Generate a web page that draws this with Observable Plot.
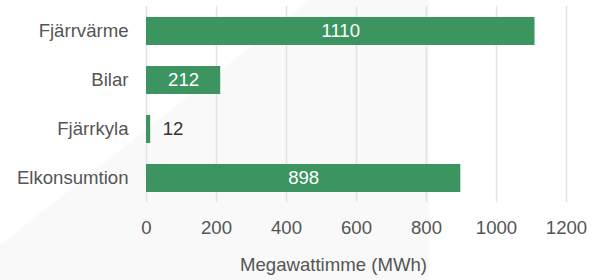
<!DOCTYPE html>
<html>
<head>
<meta charset="utf-8">
<script src="https://cdn.jsdelivr.net/npm/d3@7"></script>
<script src="https://cdn.jsdelivr.net/npm/@observablehq/plot@0.6"></script>
<style>
  html, body { margin: 0; padding: 0; background: #ffffff; }
  #wrap { position: relative; width: 592px; height: 280px; overflow: hidden; }
  #bg { position: absolute; left: 0; top: 0; width: 429px; height: 280px; background: #f9f9f9;
        clip-path: polygon(0 245px, 310px 0, 429px 0, 429px 280px, 0 280px); }
  #chart { position: absolute; left: 0; top: 0; }
  #chart svg { background: transparent; }
</style>
</head>
<body>
<div id="wrap"><div id="bg"></div><div id="chart"></div></div>
<script>
const categories = ["Fjärrvärme", "Bilar", "Fjärrkyla", "Elkonsumtion"];
const values = [1110, 212, 12, 898];
const xTicks = [0, 200, 400, 600, 800, 1000, 1200];
const xLabel = "Megawattimme (MWh)";

const data = categories.map((c, i) => ({cat: c, value: values[i]}));
const green = "#3c9461";

const chart = Plot.plot({
  width: 592,
  height: 280,
  marginLeft: 146,
  marginRight: 26,
  marginTop: 6,
  marginBottom: 78,
  style: {fontFamily: "'Liberation Sans', Arial, sans-serif", fontSize: "18.6px", color: "#555", background: "transparent"},
  x: {domain: [0, 1200], ticks: xTicks, tickFormat: d => String(d), tickSize: 0, tickPadding: 18, label: null},
  y: {domain: categories, paddingInner: 0.43, paddingOuter: 0.215, tickSize: 0, tickPadding: 18, label: null},
  marks: [
    Plot.ruleX(xTicks, {stroke: "#e3e3e3", strokeWidth: 1.5}),
    Plot.barX(data, {x: "value", y: "cat", fill: green}),
    Plot.text(data.filter(d => d.value >= 100), {x: d => d.value / 2, y: "cat", text: d => String(d.value), fill: "white", textAnchor: "middle"}),
    Plot.text(data.filter(d => d.value < 100), {x: "value", y: "cat", text: d => String(d.value), fill: "#333", textAnchor: "start", dx: 12}),
    Plot.text([xLabel], {frameAnchor: "bottom", text: d => d, dy: 68, dx: -23, fill: "#555"})
  ]
});
document.getElementById("chart").appendChild(chart);
</script>
</body>
</html>
